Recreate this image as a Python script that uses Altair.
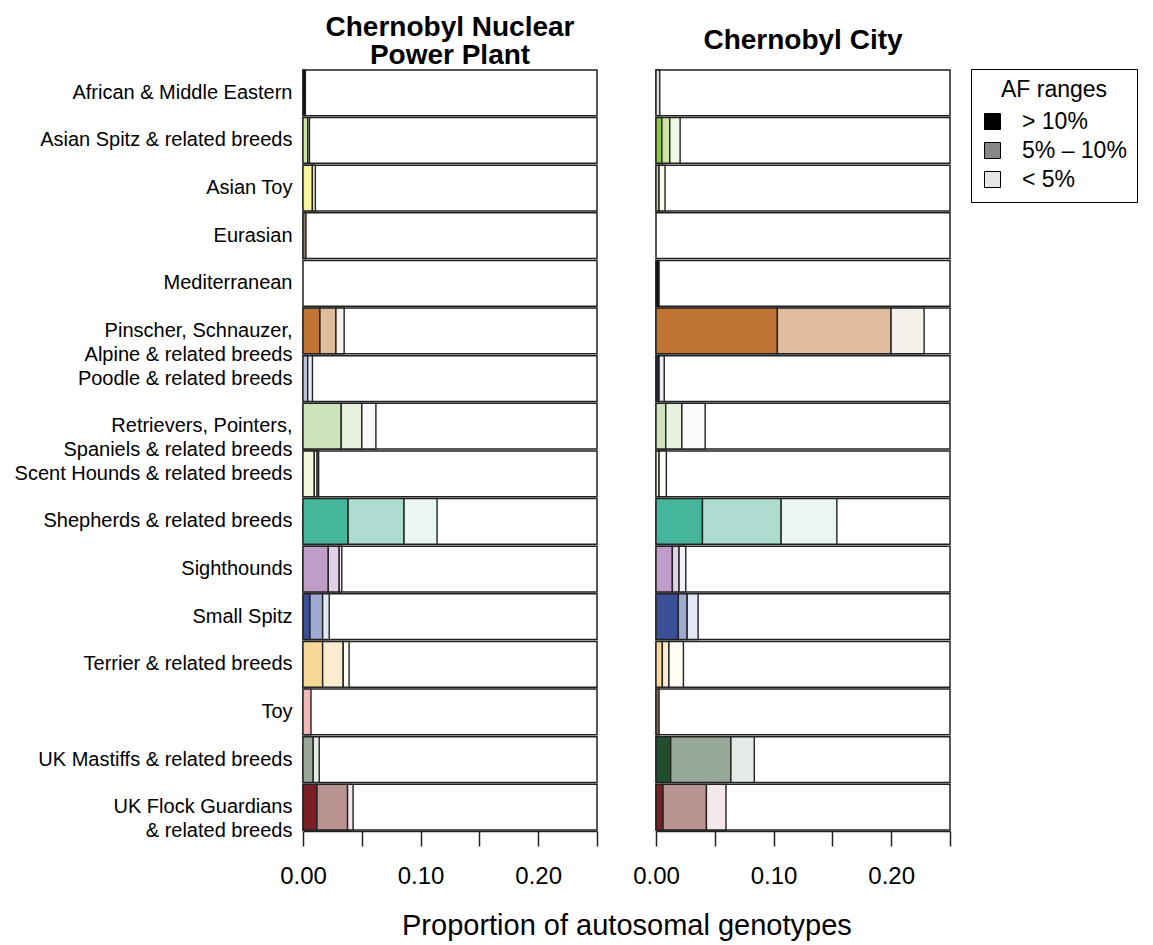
import altair as alt
import pandas as pd

# ---------------- data ----------------
CLADES = [
    "African & Middle Eastern",
    "Asian Spitz & related breeds",
    "Asian Toy",
    "Eurasian",
    "Mediterranean",
    "Pinscher, Schnauzer,|Alpine & related breeds",
    "Poodle & related breeds",
    "Retrievers, Pointers,|Spaniels & related breeds",
    "Scent Hounds & related breeds",
    "Shepherds & related breeds",
    "Sighthounds",
    "Small Spitz",
    "Terrier & related breeds",
    "Toy",
    "UK Mastiffs & related breeds",
    "UK Flock Guardians|& related breeds",
]

PANELS = ["NPP", "City"]
PANEL_TITLES = ["Chernobyl Nuclear|Power Plant", "Chernobyl City"]
LEVELS = ["> 10%", "5% – 10%", "< 5%"]

# Chernobyl Nuclear Power Plant: proportion per AF range
NPP_HIGH = [0.002, 0.0, 0.008, 0.0025, 0.0, 0.0144, 0.0, 0.0325, 0.0096, 0.0384,
            0.0215, 0.0059, 0.0167, 0.0, 0.0, 0.0119]
NPP_MID = [0.0, 0.004, 0.0, 0.0, 0.0, 0.0136, 0.004, 0.0175, 0.0024, 0.0475,
           0.0093, 0.0108, 0.0175, 0.0068, 0.0087, 0.026]
NPP_LOW = [0.0, 0.0015, 0.0025, 0.0, 0.0, 0.007, 0.004, 0.012, 0.0013, 0.0281,
           0.0022, 0.0056, 0.005, 0.0, 0.0051, 0.0047]

# Chernobyl City
CITY_HIGH = [0.0, 0.005, 0.0, 0.0, 0.0026, 0.1032, 0.0026, 0.0083, 0.0026, 0.0395,
             0.0139, 0.019, 0.0054, 0.0026, 0.0125, 0.006]
CITY_MID = [0.0, 0.0067, 0.0026, 0.0, 0.0, 0.0967, 0.0, 0.0137, 0.0, 0.0669,
            0.0057, 0.0075, 0.0056, 0.0, 0.0512, 0.0369]
CITY_LOW = [0.0032, 0.0088, 0.0051, 0.0, 0.0, 0.0281, 0.0044, 0.0198, 0.0062, 0.0474,
            0.0057, 0.0093, 0.0123, 0.0, 0.0199, 0.0166]

# clade colours (high, mid, low AF range shades)
COL_HIGH = ["#000000", "#8cc43c", "#f8f4a0", "#8a7868", "#111111", "#c07434", "#2a2a3a",
            "#cce3bb", "#f6f8dc", "#45b69c", "#c09cc8", "#3a4f96", "#f8d898", "#8a6a60",
            "#234f2e", "#7a1f24"]
COL_MID = ["#808080", "#cce4a8", "#cfcfa8", "#c0b4a8", "#888888", "#e0bc9c", "#c0c0d8",
           "#e6f2dd", "#fafbe8", "#addcd0", "#e0d0e6", "#9faad0", "#fbecd0", "#f4b8b8",
           "#98a898", "#b99292"]
COL_LOW = ["#dcdcdc", "#f0f6e6", "#fbfbea", "#ece8e4", "#e0e0e0", "#f4efe9", "#ededf5",
           "#f8fbf7", "#fdfdf8", "#eaf6f3", "#f6f0f8", "#e4e8f4", "#fefcf5", "#fbe8e8",
           "#e4ebe6", "#f2e8ea"]

LEGEND_COLORS = ["#000000", "#888888", "#e6e6e6"]
TICKS = [0.0, 0.05, 0.10, 0.15, 0.20, 0.25]

# ---------------- table ----------------
rows = []
panel_vals = {
    PANELS[0]: [NPP_HIGH, NPP_MID, NPP_LOW],
    PANELS[1]: [CITY_HIGH, CITY_MID, CITY_LOW],
}
cols = [COL_HIGH, COL_MID, COL_LOW]
for pi, p in enumerate(PANELS):
    rows.append(dict(kind="title", panel=p, clade=None, level="", lvl=-2, value=0.0,
                     hex="#ffffff", ttl=PANEL_TITLES[pi]))
    for i, c in enumerate(CLADES):
        rows.append(dict(kind="bg", panel=p, clade=c, level="", lvl=-1, value=0.0,
                         hex="#ffffff", ttl=""))
        for k in range(3):
            rows.append(dict(kind="seg", panel=p, clade=c, level=LEVELS[k], lvl=k,
                             value=panel_vals[p][k][i], hex=cols[k][i], ttl=""))
df = pd.DataFrame(rows)

FONT = "Liberation Sans"
STROKE = "#222222"

yenc = alt.Y(
    "clade:N",
    sort=CLADES,
    scale=alt.Scale(paddingInner=0.04, paddingOuter=0.02),
    axis=alt.Axis(
        title=None, ticks=False, domain=False, labelFontSize=20, labelLineHeight=24,
        labelPadding=10, minExtent=289, maxExtent=289, labelLimit=0, labelColor="black",
        labelExpr="split(datum.value, '|')",
    ),
)

xscale = alt.Scale(domain=[0, 0.25], nice=False, zero=True)

bg = alt.Chart().transform_filter("datum.kind == 'bg'").mark_bar(
    fill="white", stroke=STROKE, strokeWidth=1.5
).encode(
    y=yenc,
    x=alt.datum(0.0),
    x2=alt.datum(0.25),
)

seg = alt.Chart().transform_filter("datum.kind == 'seg' && datum.value > 0").mark_bar(
    stroke=STROKE, strokeWidth=1.4
).encode(
    y=alt.Y("clade:N", sort=CLADES),
    x=alt.X(
        "value:Q", stack="zero", scale=xscale,
        axis=alt.Axis(
            title=None, values=TICKS, grid=False, tickSize=15, tickWidth=1.5,
            tickColor=STROKE, domainColor=STROKE, domainWidth=1.5,
            labelFontSize=24, labelPadding=18, labelColor="black", labelFlush=False,
            labelExpr="round(datum.value * 100) % 10 == 0 ? format(datum.value, '.2f') : ''",
        ),
    ),
    fill=alt.Fill("hex:N", scale=None),
    order=alt.Order("lvl:Q"),
)

leg = alt.Chart().transform_filter("datum.kind == 'seg'").mark_square(size=0, opacity=0).encode(
    y=alt.Y("clade:N", sort=CLADES),
    x=alt.datum(0.0),
    color=alt.Color(
        "level:N",
        scale=alt.Scale(domain=LEVELS, range=LEGEND_COLORS),
        legend=alt.Legend(
            title="AF ranges", orient="right", offset=20, padding=10,
            strokeColor="black", fillColor="white",
            titleFontSize=23, titleFontWeight="normal", titleAnchor="middle", titlePadding=8,
            titleColor="black", labelColor="black",
            labelFontSize=23, labelOffset=18, rowPadding=5,
            symbolType="square", symbolSize=256, symbolStrokeColor="black",
            symbolStrokeWidth=1, symbolOpacity=1,
        ),
    ),
)


def panel_title(panel, yoff):
    return alt.Chart().transform_filter(
        f"datum.kind == 'title' && datum.panel == '{panel}'"
    ).mark_text(
        fontSize=28, fontWeight="bold", lineHeight=28, lineBreak="|", baseline="middle",
        align="center", color="black", clip=False,
    ).encode(
        x=alt.datum(0.125),
        y=alt.value(yoff),
        text="ttl:N",
    )


ttl1 = panel_title(PANELS[0], -41)
ttl2 = panel_title(PANELS[1], -28)

layered = alt.layer(bg, seg, leg, ttl1, ttl2, data=df).properties(width=294, height=762)

chart = layered.facet(
    column=alt.Column("panel:N", sort=PANELS, title=None, header=alt.Header(labels=False)),
    spacing=57,
).properties(
    title=alt.TitleParams(
        "Proportion of autosomal genotypes", orient="bottom", anchor="start", frame="bounds",
        dx=389, offset=24, fontSize=29, fontWeight="normal", color="black",
    ),
    padding={"left": 5, "top": 6, "right": 0, "bottom": 0},
).configure(font=FONT).configure_view(stroke=None)

chart.save("out.html", embed_options={"renderer": "svg", "actions": False})
